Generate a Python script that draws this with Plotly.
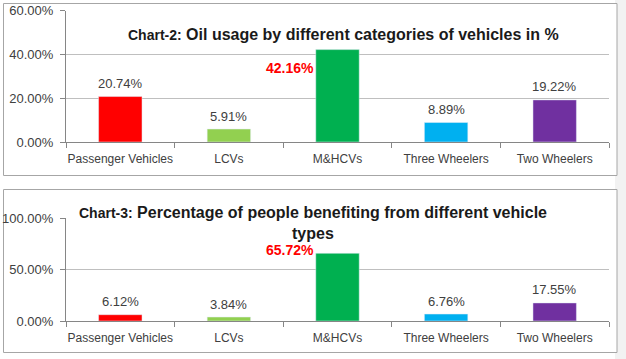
import plotly.graph_objects as go

categories = ["Passenger Vehicles", "LCVs", "M&HCVs", "Three Wheelers", "Two Wheelers"]
oil_usage = [20.74, 5.91, 42.16, 8.89, 19.22]
people_benefit = [6.12, 3.84, 65.72, 6.76, 17.55]
bar_colors = ["#FF0000", "#92D050", "#00B050", "#00B0F0", "#7030A0"]
highlight_index = 2
title_top = "Chart-2:"
title_top_rest = "Oil usage by different categories of vehicles in %"
title_bot_line1 = "Chart-3:"
title_bot_line1_rest = "Percentage of people benefiting from different vehicle"
title_bot_line2 = "types"
top_ticks = [0, 20, 40, 60]
bot_ticks = [0, 50, 100]

W, H = 626, 359
FONT = "Liberation Sans, Arial, sans-serif"

def px(x):
    return x / W

def py(y):
    return 1 - y / H

fig = go.Figure()
fig.add_trace(go.Bar(x=categories, y=oil_usage, marker_color=bar_colors, width=0.4,
                     xaxis="x", yaxis="y", showlegend=False, hoverinfo="x+y"))
fig.add_trace(go.Bar(x=categories, y=people_benefit, marker_color=bar_colors, width=0.4,
                     xaxis="x2", yaxis="y2", showlegend=False, hoverinfo="x+y"))

annotations = []
for series, xr, yr, hshift in [(oil_usage, "x", "y", -18), (people_benefit, "x2", "y2", 3)]:
    for i, (c, v) in enumerate(zip(categories, series)):
        if i == highlight_index:
            annotations.append(dict(x=c, y=v, xref=xr, yref=yr, text=f"<b>{v:.2f}%</b>",
                                    showarrow=False, xshift=-48, yshift=hshift,
                                    font=dict(family=FONT, size=14, color="#FF0000")))
        else:
            annotations.append(dict(x=c, y=v, xref=xr, yref=yr, text=f"{v:.2f}%",
                                    showarrow=False, yshift=13,
                                    font=dict(family=FONT, size=13, color="#404040")))

annotations.append(dict(x=px(343), y=py(24), xref="paper", yref="paper", showarrow=False,
                        text=f"<b><span style='font-size:14px'>{title_top}</span> {title_top_rest}</b>",
                        font=dict(family=FONT, size=16, color="#1a1a1a")))
annotations.append(dict(x=px(313), y=py(212), xref="paper", yref="paper", showarrow=False,
                        text=f"<b><span style='font-size:14px'>{title_bot_line1}</span> {title_bot_line1_rest}</b>",
                        font=dict(family=FONT, size=16, color="#1a1a1a")))
annotations.append(dict(x=px(313), y=py(233), xref="paper", yref="paper", showarrow=False,
                        text=f"<b>{title_bot_line2}</b>",
                        font=dict(family=FONT, size=16, color="#1a1a1a")))

axis_common = dict(showline=True, linecolor="#868686", linewidth=1, automargin=False)
xfont = dict(family=FONT, size=12, color="#404040")
yfont = dict(family=FONT, size=13, color="#404040")

shapes = [
    dict(type="rect", xref="paper", yref="paper", x0=px(615), x1=1, y0=0, y1=1,
         fillcolor="#F2F2F2", line=dict(width=0), layer="below"),
    dict(type="rect", xref="paper", yref="paper", x0=px(3.5), x1=px(617), y0=py(3.5), y1=py(175.5),
         line=dict(color="#A6A6A6", width=1), fillcolor="white", layer="below"),
    dict(type="rect", xref="paper", yref="paper", x0=px(3.5), x1=px(617), y0=py(189.5), y1=py(352.5),
         line=dict(color="#A6A6A6", width=1), fillcolor="white", layer="below"),
]

fig.update_layout(
    width=W, height=H, margin=dict(l=0, r=0, t=0, b=0, autoexpand=False),
    paper_bgcolor="white", plot_bgcolor="rgba(0,0,0,0)",
    font=dict(family=FONT),
    xaxis=dict(domain=[px(66), px(609)], anchor="y", type="category", tickson="boundaries",
               tickangle=0, ticks="outside", ticklen=5, tickcolor="#868686", showgrid=False,
               ticklabelstandoff=6, tickfont=xfont, **axis_common),
    yaxis=dict(domain=[py(142), py(10.5)], anchor="x", range=[0, 60], tickvals=top_ticks,
               ticktext=[f"{t:.2f}%" for t in top_ticks], ticks="outside", ticklen=5,
               ticklabelstandoff=4, tickfont=yfont,
               tickcolor="#868686", showgrid=True, gridcolor="#BFBFBF", zeroline=False, **axis_common),
    xaxis2=dict(domain=[px(66), px(609)], anchor="y2", type="category", tickson="boundaries",
                tickangle=0, ticks="outside", ticklen=5, tickcolor="#868686", showgrid=False,
                ticklabelstandoff=6, tickfont=xfont, **axis_common),
    yaxis2=dict(domain=[py(321), py(218)], anchor="x2", range=[0, 100], tickvals=bot_ticks,
                ticktext=[f"{t:.2f}%" for t in bot_ticks], ticks="outside", ticklen=5,
                ticklabelstandoff=4, tickfont=yfont,
                tickcolor="#868686", showgrid=True, gridcolor="#BFBFBF", zeroline=False, **axis_common),
    annotations=annotations,
    shapes=shapes,
    bargap=0.6,
)

fig.write_html("out.html", config={"displayModeBar": False},
               post_script="document.body.style.margin='0';")
